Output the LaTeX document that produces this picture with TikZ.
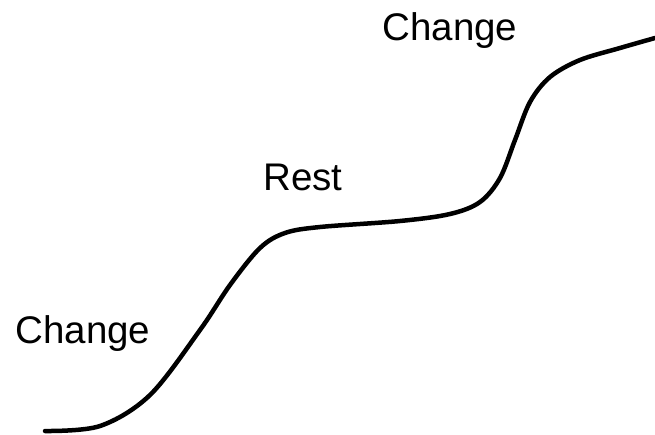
\documentclass[tikz,border=0pt]{standalone}
\usepackage{fontspec}
\setmainfont{Liberation Sans}
\begin{document}
\begin{tikzpicture}[x=1pt,y=-1pt,
  lbl/.style={font=\fontsize{38.5}{42}\selectfont, inner sep=0pt},
  curve/.style={line width=4.5pt, line cap=round}]
\useasboundingbox (0,0) rectangle (655,434);
\node[lbl] (c1) at (450,31) {Change};
\node[lbl] (r) at (303,177) {Rest};
\node[lbl] (c2) at (83,334) {Change};
\draw[curve] plot[smooth, tension=0.55] coordinates {(45,431) (100,426) (150,395) (200,330) (230,285) (260,248) (285,233) (320,227) (400,221) (450,214) (480,202) (500,178) (515,140) (530,102) (550,77) (580,60) (620,48) (655,38)};
\end{tikzpicture}
\end{document}
